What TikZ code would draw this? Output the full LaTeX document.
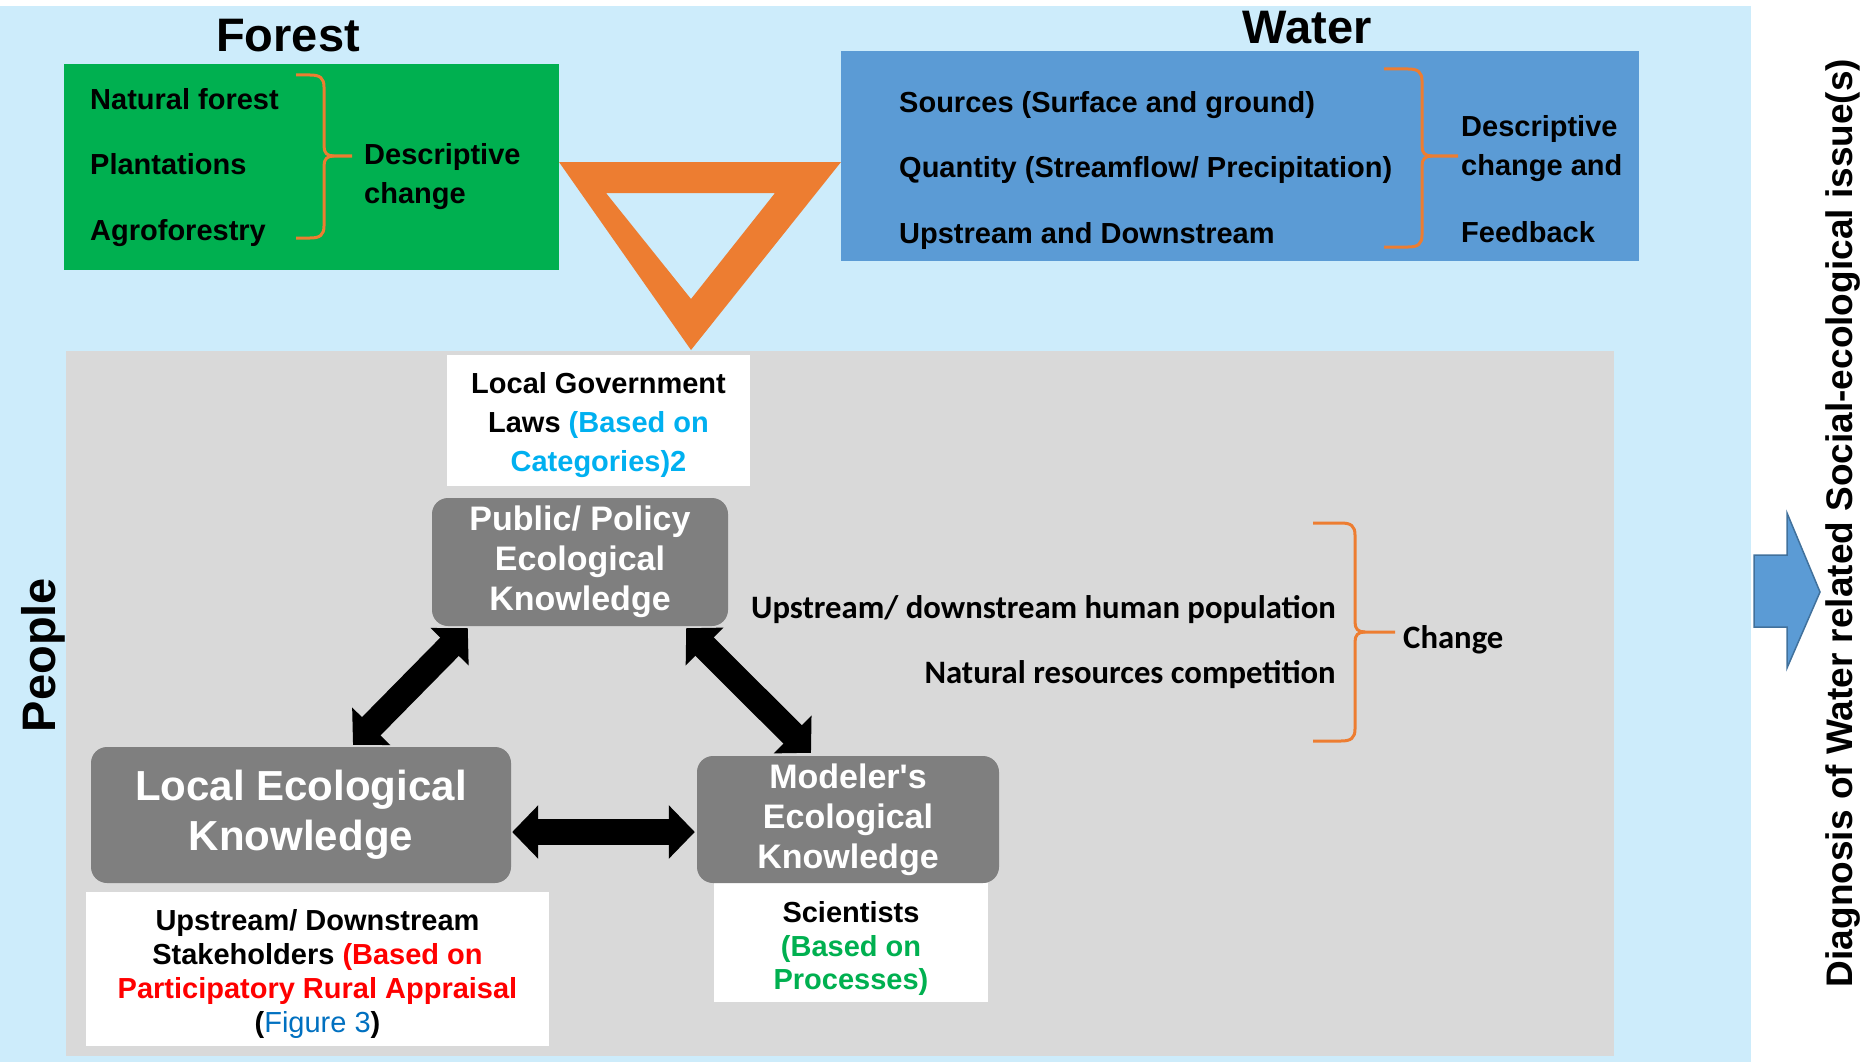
\documentclass[tikz,border=0pt]{standalone}
\usepackage{fontspec}
\setmainfont{Liberation Sans}
\newfontfamily\calib{Carlito}
\usetikzlibrary{arrows.meta,calc}
\definecolor{lightbg}{RGB}{205,236,251}
\definecolor{grn}{RGB}{0,176,80}
\definecolor{wblue}{RGB}{91,155,213}
\definecolor{wblueline}{RGB}{65,113,156}
\definecolor{orng}{RGB}{237,125,49}
\definecolor{panel}{RGB}{217,217,217}
\definecolor{knode}{RGB}{127,127,127}
\definecolor{cyantx}{RGB}{0,176,240}
\definecolor{redtx}{RGB}{255,0,0}
\definecolor{grtx}{RGB}{0,176,80}
\definecolor{figblue}{RGB}{0,112,192}
\newcommand{\RBrace}[6]{% x0, x1, xtip, ytop, ymid, ybot
  \draw[bracestyle] (#1,#4) -- ({#2-14},#4) .. controls ({#2-4},#4) and (#2,{#4+3}) .. (#2,{#4+12})
    -- (#2,{#5-10}) .. controls (#2,{#5-3}) and ({#2+3},#5) .. ({#2+10},#5) -- (#3,#5);
  \draw[bracestyle] ({#2+10},#5) .. controls ({#2+3},#5) and (#2,{#5+3}) .. (#2,{#5+10})
    -- (#2,{#6-12}) .. controls (#2,{#6-3}) and ({#2-4},#6) .. ({#2-14},#6) -- (#1,#6);
}
\newcommand{\toppad}[1]{\rule{0pt}{#1}}
\begin{document}
\begin{tikzpicture}[x=1pt,y=-1pt,
  bracestyle/.style={draw=orng, line width=3pt},
  title/.style={inner sep=0pt, font=\bfseries\fontsize{47}{50}\selectfont, text height=34pt, text depth=0pt},
  ln/.style={inner sep=0pt, font=\bfseries\fontsize{29}{34}\selectfont, text height=21pt, text depth=0pt},
  cln/.style={inner sep=0pt, font=\calib\bfseries\fontsize{32.7}{40}\selectfont, text height=21pt, text depth=0pt},
  area/.style={inner sep=0pt, draw=none},
  kn/.style={fill=knode, rounded corners=16pt, text=white, align=center, inner sep=0pt},
  wbox/.style={fill=white, align=center, inner sep=0pt, font=\bfseries\fontsize{29}{34}\selectfont},
  dbl/.style={line width=26pt, {Triangle[length=26pt,width=52pt]}-{Triangle[length=26pt,width=52pt]}}
]
\useasboundingbox (0,0) rectangle (1871,1062);
\fill[lightbg] (0,6) rectangle (1751,1062);
\fill[panel] (66,351) rectangle (1614,1056);

% Forest
\node[title] (ftitle) at (288,35) {Forest};
\node[area, fill=grn, minimum width=495pt, minimum height=206pt] (forest) at (311.5,167) {};
\node[ln, anchor=west] (nat) at (90,99) {Natural forest};
\node[ln, anchor=west] (plan) at (90,164) {Plantations};
\node[ln, anchor=west] (agro) at (90,230) {Agroforestry};
\node[ln, anchor=west] (fd1) at (364,154) {Descriptive};
\node[ln, anchor=west] (fd2) at (364,193) {change};
\RBrace{296}{324}{352}{75}{156}{238}

% Water
\node[title] (wtitle) at (1307,27) {Water};
\node[area, fill=wblue, minimum width=798pt, minimum height=210pt] (water) at (1240,156) {};
\node[ln, anchor=west] (src) at (899,102) {Sources (Surface and ground)};
\node[ln, anchor=west] (qty) at (899,167) {Quantity (Streamflow/ Precipitation)};
\node[ln, anchor=west] (upd) at (899,233) {Upstream and Downstream};
\node[ln, anchor=west] (wd1) at (1461,126) {Descriptive};
\node[ln, anchor=west] (wd2) at (1461,165) {change and};
\node[ln, anchor=west] (wd3) at (1461,232) {Feedback};
\RBrace{1384}{1422}{1458}{69}{156}{247}

% orange triangle
\fill[orng, even odd rule] (559,162) -- (841,162) -- (691,350) -- cycle
  (606,193) -- (775,193) -- (691,299) -- cycle;

% People
\node[rotate=90, inner sep=0pt, font=\bfseries\fontsize{47}{50}\selectfont] (people) at (43,655) {People};

% white label boxes
\node[wbox, minimum width=303pt, minimum height=131pt, font=\bfseries\fontsize{29}{39}\selectfont] (gov) at (598.5,420.5)
  {\toppad{31pt}Local Government\\Laws \textcolor{cyantx}{(Based on}\\\textcolor{cyantx}{Categories)2}};
\node[wbox, minimum width=274pt, minimum height=119pt, font=\bfseries\fontsize{29}{33.5}\selectfont] (sci) at (851,942.5)
  {\toppad{33pt}Scientists\\\textcolor{grtx}{(Based on}\\\textcolor{grtx}{Processes)}};
\node[wbox, minimum width=463pt, minimum height=154pt, font=\bfseries\fontsize{29}{34.3}\selectfont] (stake) at (317.5,969)
  {\toppad{31pt}Upstream/ Downstream\\Stakeholders \textcolor{redtx}{(Based on}\\\textcolor{redtx}{Participatory Rural Appraisal}\\({\mdseries\textcolor{figblue}{Figure 3}})};

% knowledge nodes
\node[kn, minimum width=296pt, minimum height=128pt, font=\bfseries\fontsize{34}{40}\selectfont] (pub) at (580,562)
  {Public/ Policy\\Ecological\\Knowledge};
\node[kn, minimum width=420pt, minimum height=136pt, font=\bfseries\fontsize{42}{50}\selectfont] (local) at (301,815)
  {Local Ecological\\Knowledge};
\node[kn, minimum width=302pt, minimum height=127pt, font=\bfseries\fontsize{34}{40}\selectfont] (model) at (848,819.5)
  {Modeler\textquotesingle s\\Ecological\\Knowledge};

% double arrows
\draw[dbl] ($(local.north)+(52,-2)$) -- ($(pub.south west)+(36,2)$);
\draw[dbl] ($(pub.south east)+(-42,2)$) -- ($(model.north)+(-37,-3)$);
\draw[dbl] ($(local.east)+(1,17)$) -- ($(model.west)+(-2,12.5)$);

% people change
\node[cln, anchor=east] (pop) at (1336,608) {Upstream/ downstream human population};
\node[cln, anchor=east] (nrc) at (1336,673) {Natural resources competition};
\node[cln, anchor=west] (chg) at (1403,638) {Change};
\RBrace{1313}{1355}{1395}{523}{632}{741}

% right arrow and diagnosis
\filldraw[fill=wblue, draw=wblueline, line width=1.5pt] (1754,555) -- (1787,555) -- (1787,513) -- (1820,592)
  -- (1787,668) -- (1787,627) -- (1754,627) -- cycle;
\node[rotate=90, inner sep=0pt, font=\bfseries\fontsize{37}{40}\selectfont] (diag) at (1843,523)
  {Diagnosis of Water related Social-ecological issue(s)};
\end{tikzpicture}
\end{document}
